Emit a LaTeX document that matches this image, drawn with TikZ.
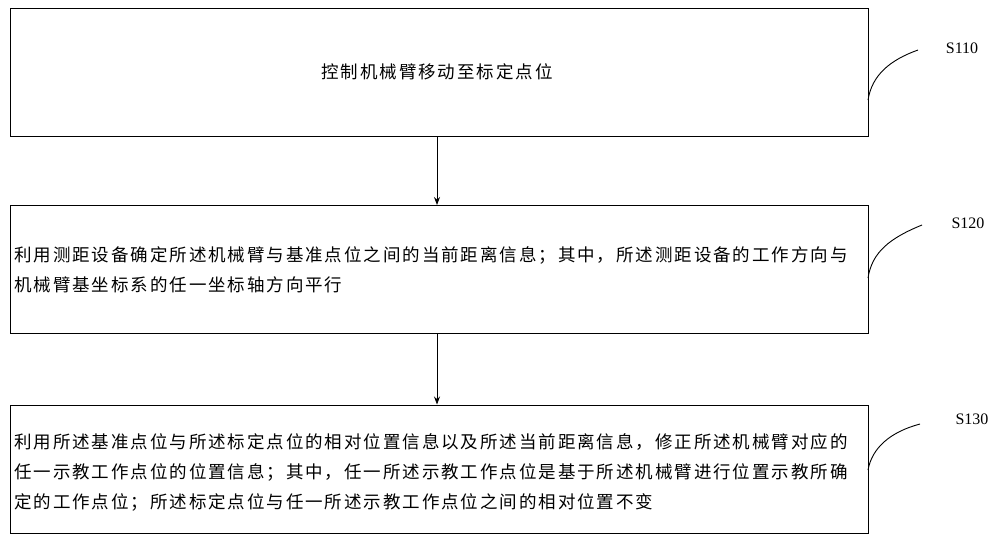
\documentclass[tikz,border=0pt]{standalone}
\usetikzlibrary{arrows.meta}
\usepackage{fontspec}
\setmainfont{Liberation Serif}
\newfontfamily\cjk[LetterSpace=11]{Noto Sans CJK SC}
\begin{document}
\begin{tikzpicture}[x=1pt,y=-1pt,
  boxst/.style={draw,line width=1pt,minimum width=858pt,minimum height=128pt,inner sep=0pt},
  txt/.style={font=\cjk\fontsize{17.5}{30}\selectfont,align=left,inner sep=0pt,anchor=west},
  arr/.style={-{Stealth[length=8pt,width=6pt]},line width=0.8pt},
  lbl/.style={font=\fontsize{16}{18}\selectfont,inner sep=0pt},
  crv/.style={line width=0.9pt}]
\useasboundingbox (0,0) rectangle (1000,542);
\node[boxst] (b1) at (439,72) {};
\node[boxst] (b2) at (439,269.5) {};
\node[boxst] (b3) at (439,469) {};
\node[font=\cjk\fontsize{17.5}{30}\selectfont,inner sep=0pt] (t1) at (437,72) {控制机械臂移动至标定点位};
\node[txt] (t2) at (14,269.5) {利用测距设备确定所述机械臂与基准点位之间的当前距离信息；其中，所述测距设备的工作方向与\\机械臂基坐标系的任一坐标轴方向平行};
\node[txt] (t3) at (14,472) {利用所述基准点位与所述标定点位的相对位置信息以及所述当前距离信息，修正所述机械臂对应的\\任一示教工作点位的位置信息；其中，任一所述示教工作点位是基于所述机械臂进行位置示教所确\\定的工作点位；所述标定点位与任一所述示教工作点位之间的相对位置不变};
\draw[arr] (b1.south -| 437,0) -- (b2.north -| 437,0);
\draw[arr] (b2.south -| 437,0) -- (b3.north -| 437,0);
\node[lbl] (s1) at (962,48) {S110};
\node[lbl] (s2) at (968,223) {S120};
\node[lbl] (s3) at (972,419) {S130};
\coordinate (c1) at (918,50);
\coordinate (c2) at (922,225);
\coordinate (c3) at (920,424);
\draw[crv] (868,100) .. controls (872,75) and (890,60) .. (c1);
\draw[crv] (868,278) .. controls (872,252) and (890,238) .. (c2);
\draw[crv] (868,470) .. controls (872,448) and (890,432) .. (c3);
\end{tikzpicture}
\end{document}
